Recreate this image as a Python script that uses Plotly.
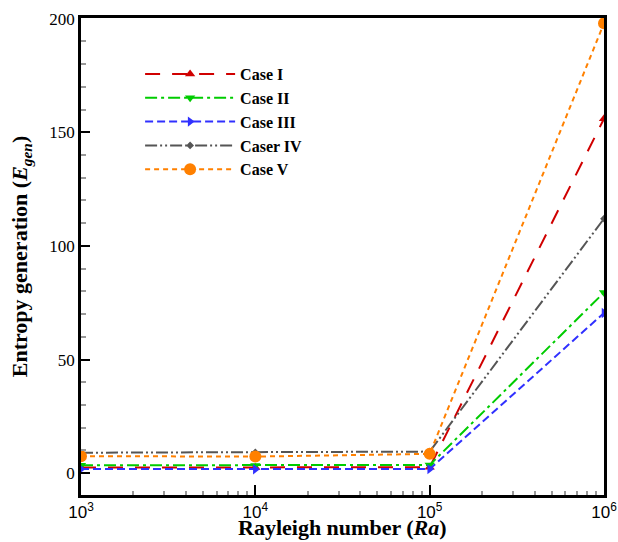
import plotly.graph_objects as go

ra = [1e3, 1e4, 1e5, 1e6]
case_names = ["Case I", "Case II", "Case III", "Caser IV", "Case V"]
case1 = [2.5, 2.5, 2.6, 156]
case2 = [3.5, 3.4, 3.6, 79.5]
case3 = [1.8, 1.7, 1.8, 70.5]
case4 = [9.0, 9.1, 9.5, 112]
case5 = [7.5, 7.3, 8.5, 198]
x_tickvals = [1e3, 1e4, 1e5, 1e6]
x_ticktext = ["10<sup>3</sup>", "10<sup>4</sup>", "10<sup>5</sup>", "10<sup>6</sup>"]
x_minor_vals = [m * d for d in (1e3, 1e4, 1e5) for m in range(2, 10)]
y_tickvals = [0, 50, 100, 150, 200]

series = [
    (case1, "#D00000", "15px,12px", "triangle-up", 9),
    (case2, "#00CC00", "12px,4px,3px,4px", "triangle-down", 9),
    (case3, "#3030FF", "8px,4px", "triangle-right", 9),
    (case4, "#555555", "12px,3px,2px,3px,2px,3px", "diamond", 6),
    (case5, "#FF8000", "5px,4px", "circle", 12),
]

fig = go.Figure()
for name, (vals, col, dash, sym, ms) in zip(case_names, series):
    fig.add_trace(go.Scatter(
        x=ra, y=vals, name="<b>" + name + "</b>", mode="lines+markers",
        line=dict(color=col, width=2, dash=dash),
        marker=dict(symbol=sym, size=ms, color=col),
    ))

serif = "Liberation Serif, Times New Roman, serif"
sans = "Liberation Sans, Arial, sans-serif"
fig.update_layout(
    width=618, height=542,
    margin=dict(l=81, r=14, t=18, b=47),
    plot_bgcolor="white", paper_bgcolor="white",
    font=dict(family=serif, size=17, color="black"),
    showlegend=True,
    legend=dict(x=0.113, y=0.918, xanchor="left", yanchor="top",
                bgcolor="rgba(0,0,0,0)", font=dict(size=16, family=serif),
                itemwidth=90, tracegroupgap=0),
    xaxis=dict(
        type="log", range=[3, 6], tickvals=x_tickvals, ticktext=x_ticktext,
        ticks="inside", ticklen=10, tickwidth=1.5, tickcolor="black",
        showline=True, linewidth=2.5, linecolor="black", mirror=True,
        showgrid=False, zeroline=False, automargin=False, ticklabeloverflow="allow",
        minor=dict(tickvals=x_minor_vals, ticks="inside", ticklen=4, tickcolor="#999999", showgrid=False),
        tickfont=dict(size=17, family=sans),
    ),
    yaxis=dict(
        range=[-9.6, 200.3], tickvals=y_tickvals,
        ticks="inside", ticklen=9, tickwidth=1.5, tickcolor="black",
        showline=True, linewidth=2.5, linecolor="black", mirror=True,
        showgrid=False, zeroline=False, automargin=False,
        minor=dict(ticks="inside", ticklen=5, dtick=10, tickcolor="#999999", showgrid=False),
        title=dict(text="<b>Entropy generation (<i>E<sub>gen</sub></i>)</b>", font=dict(size=22), standoff=16),
        tickfont=dict(size=17),
    ),
    annotations=[dict(
        text="<b>Rayleigh number (<i>Ra</i>)</b>", xref="paper", yref="paper",
        x=0.5, y=-0.069, xanchor="center", yanchor="middle", showarrow=False,
        borderpad=0, font=dict(size=22, family=serif),
    )],
)
fig.write_html("out.html")
